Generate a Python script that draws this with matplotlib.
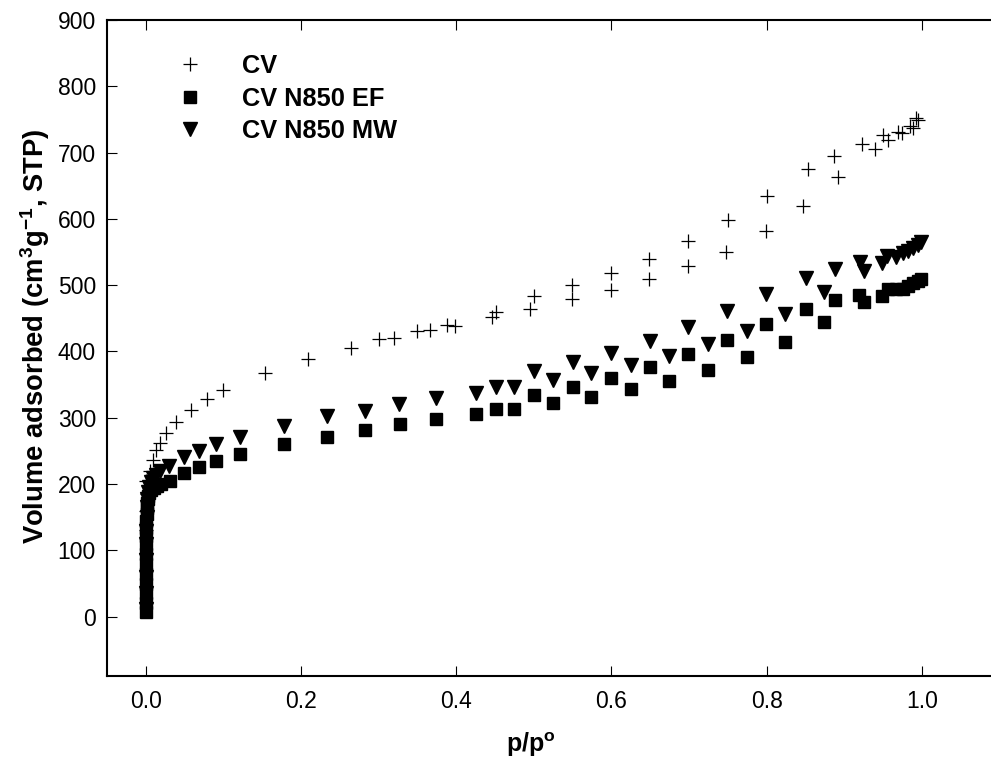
import matplotlib
matplotlib.use('Agg')
import matplotlib.pyplot as plt
from matplotlib.ticker import FormatStrFormatter

plt.rcParams['font.family'] = ['Liberation Sans', 'DejaVu Sans']
plt.rcParams['mathtext.fontset'] = 'custom'
plt.rcParams['mathtext.rm'] = 'Liberation Sans:bold'
plt.rcParams['mathtext.it'] = 'Liberation Sans:bold'
plt.rcParams['mathtext.bf'] = 'Liberation Sans:bold'

# ---- data ----
cv_x = [0.0002, 0.0003, 0.0005, 0.001, 0.0004, 0.005, 0.009, 0.013, 0.018, 0.026,
        0.039, 0.058, 0.079, 0.0999, 0.154, 0.209, 0.265, 0.300, 0.320, 0.349,
        0.366, 0.388, 0.398, 0.446, 0.451, 0.495, 0.5005, 0.549, 0.549, 0.599,
        0.599, 0.6485, 0.6485, 0.699, 0.699, 0.748, 0.750, 0.799, 0.8005, 0.847,
        0.853, 0.892, 0.887, 0.923, 0.939, 0.950, 0.956, 0.969, 0.974, 0.984,
        0.988, 0.993, 0.995]
cv_y = [96, 131, 160, 185, 204, 219, 236, 252, 262, 277,
        294, 312, 328, 342, 368, 388, 406, 419, 420, 431,
        432, 440, 439, 452, 459, 464, 484, 479, 500, 493,
        518, 509, 539, 529, 566, 550, 599, 581, 635, 619,
        675, 663, 695, 713, 705, 726, 719, 731, 729, 740,
        737, 752, 749]

ef_x = [0.0001, 0.0001, 0.0002, 0.0002, 0.0003, 0.0003, 0.0004, 0.0004, 0.0005, 0.0006,
        0.0007, 0.0009, 0.0012, 0.0016, 0.0022, 0.003, 0.0045, 0.007, 0.010, 0.014,
        0.020, 0.031, 0.0497, 0.068, 0.0905, 0.1215, 0.1785, 0.233, 0.282, 0.3275,
        0.374, 0.425, 0.451, 0.474, 0.500, 0.525, 0.550, 0.574, 0.600, 0.6246,
        0.6495, 0.674, 0.699, 0.7245, 0.749, 0.775, 0.799, 0.824, 0.851, 0.874,
        0.8886, 0.919, 0.925, 0.9486, 0.956, 0.967, 0.9757, 0.982, 0.989, 0.995,
        0.9994]
ef_y = [7, 20, 35, 50, 65, 80, 95, 110, 122, 134,
        145, 155, 164, 171, 177, 182, 187, 191, 194, 197,
        200, 204, 217, 226, 235, 245, 260, 271, 282, 290,
        298, 305, 314, 313, 334, 323, 347, 332, 360, 343,
        377, 356, 396, 372, 418, 391, 441, 414, 464, 444,
        477, 485, 474, 484, 494, 494, 495, 499, 503, 507,
        510]

mw_x = [0.0001, 0.0002, 0.0003, 0.0004, 0.0005, 0.0007, 0.0009, 0.0013, 0.002, 0.003,
        0.0045, 0.0065, 0.009, 0.013, 0.018, 0.030, 0.0497, 0.068, 0.0905, 0.1215,
        0.1785, 0.233, 0.282, 0.3266, 0.374, 0.425, 0.451, 0.474, 0.500, 0.525,
        0.550, 0.574, 0.600, 0.6246, 0.6495, 0.674, 0.699, 0.7245, 0.749, 0.775,
        0.799, 0.824, 0.851, 0.874, 0.8886, 0.920, 0.925, 0.9486, 0.955, 0.967,
        0.9757, 0.982, 0.989, 0.995, 0.9994]
mw_y = [12, 35, 60, 85, 110, 130, 150, 165, 178, 188,
        196, 203, 209, 214, 219, 227, 241, 250, 260, 271,
        288, 302, 310, 321, 330, 337, 347, 347, 370, 357,
        384, 367, 398, 380, 416, 393, 437, 411, 461, 431,
        487, 457, 511, 490, 525, 535, 521, 534, 544, 543,
        548, 552, 556, 561, 565]

series_labels = ['CV', 'CV N850 EF', 'CV N850 MW']
x_ticks = [0.0, 0.2, 0.4, 0.6, 0.8, 1.0]
y_ticks = [0, 100, 200, 300, 400, 500, 600, 700, 800, 900]

fig = plt.figure(figsize=(9.91, 7.67), dpi=100)
W, H = 991, 767
left, right, top, bottom = 107, 991, 20, 675.7
ax = fig.add_axes([left / W, (H - bottom) / H, (right - left) / W, (bottom - top) / H])

ax.plot(cv_x, cv_y, linestyle='none', marker='+', color='black', ms=10, mew=0.9,
        label=series_labels[0])
ax.plot(ef_x, ef_y, linestyle='none', marker='s', color='black', ms=8.5,
        label=series_labels[1])
ax.plot(mw_x, mw_y, linestyle='none', marker='v', color='black', ms=9.5,
        label=series_labels[2])

ax.set_xlim(-0.05, 1.089)
ax.set_ylim(-89, 900)
ax.set_xticks(x_ticks)
ax.set_yticks(y_ticks)
ax.xaxis.set_major_formatter(FormatStrFormatter('%.1f'))
ax.tick_params(direction='in', length=7.5, width=0.8, labelsize=16.5,
               top=True, right=False, colors='black')
ax.tick_params(axis='y', pad=8)
ax.tick_params(axis='x', pad=10)
ax.spines['right'].set_visible(False)
for s in ['left', 'top', 'bottom']:
    ax.spines[s].set_linewidth(1.5)

ax.set_xlabel(r'p/p$^{o}$', fontweight='bold', fontsize=18)
ax.set_ylabel(r'Volume adsorbed (cm$^{3}$g$^{-1}$, STP)', fontweight='bold', fontsize=19.7)
ax.xaxis.set_label_coords((531 - left) / (right - left), (bottom - 745) / (bottom - top))
ax.xaxis.label.set_va('center')
ax.yaxis.set_label_coords((35 - left) / (right - left), (bottom - 336) / (bottom - top))
ax.yaxis.label.set_va('center')

leg = ax.legend(loc='upper left', frameon=False,
                prop={'weight': 'bold', 'size': 18.3},
                bbox_to_anchor=((164.6 - left) / (right - left), (bottom - 54) / (bottom - top)),
                borderpad=0, borderaxespad=0, handletextpad=1.05, labelspacing=0.34,
                handlelength=2, numpoints=1)

fig.savefig('out.png', dpi=100, facecolor='white')
